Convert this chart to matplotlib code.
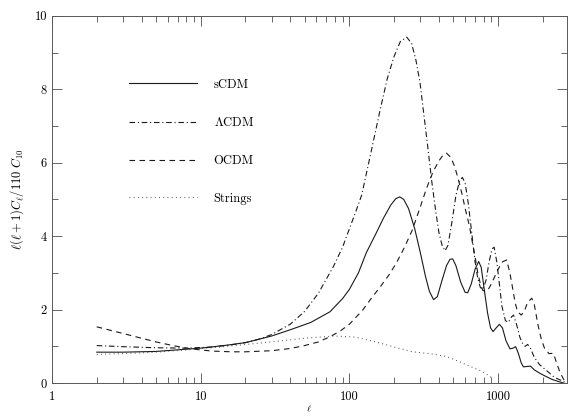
import numpy as np
import matplotlib.pyplot as plt
from matplotlib.ticker import FixedLocator, NullFormatter

plt.rcParams['font.family'] = ['cmr10', 'DejaVu Serif']
plt.rcParams['mathtext.fontset'] = 'cm'
plt.rcParams['axes.unicode_minus'] = False

# Données
l_scdm = [2, 3, 5, 10, 15, 20, 30, 40, 55, 74, 90, 100, 115, 130, 150, 170, 190, 205,
          218, 232, 250, 275, 300, 325, 345, 368, 390, 420, 450, 475, 495, 520, 560,
          600, 625, 660, 700, 740, 770, 810, 850, 890, 925, 970, 1020, 1070, 1130,
          1202, 1260, 1313, 1370, 1430, 1480, 1560, 1650, 1750, 1900, 2050, 2300,
          2550, 2750]
c_scdm = [0.84, 0.84, 0.86, 0.95, 1.03, 1.1, 1.28, 1.45, 1.65, 1.94, 2.3, 2.55, 3.0,
          3.55, 4.05, 4.5, 4.85, 5.02, 5.07, 5.0, 4.75, 4.2, 3.55, 2.9, 2.5, 2.27, 2.35,
          2.8, 3.2, 3.37, 3.38, 3.2, 2.75, 2.47, 2.46, 2.7, 3.1, 3.31, 3.15, 2.5, 1.9,
          1.5, 1.4, 1.5, 1.6, 1.5, 1.15, 0.93, 0.95, 0.99, 0.8, 0.55, 0.44, 0.45, 0.46,
          0.36, 0.27, 0.2, 0.1, 0.04, 0.0]

l_lcdm = [2, 3, 5, 8, 12, 16, 20, 25, 30, 40, 50, 62, 78, 90, 100, 110, 121, 140, 161,
          180, 200, 220, 243, 262, 280, 298, 314, 335, 357, 380, 400, 420, 440, 460,
          490, 520, 550, 575, 600, 630, 660, 700, 730, 760, 790, 830, 870, 910, 940,
          980, 1020, 1060, 1120, 1170, 1230, 1270, 1330, 1400, 1450, 1520, 1580, 1650,
          1750, 1900, 2100, 2400, 2800]
c_lcdm = [1.02, 0.99, 0.96, 0.95, 0.98, 1.04, 1.1, 1.2, 1.32, 1.6, 1.95, 2.45, 3.17,
          3.7, 4.2, 4.65, 5.12, 6.3, 7.44, 8.3, 8.9, 9.3, 9.42, 9.25, 8.8, 8.2, 7.44,
          6.5, 5.53, 4.7, 4.1, 3.75, 3.6, 3.75, 4.4, 5.1, 5.5, 5.6, 5.45, 4.9, 4.2, 3.3,
          2.85, 2.6, 2.55, 2.8, 3.3, 3.65, 3.7, 3.3, 2.7, 2.1, 1.7, 1.65, 1.8, 1.85, 1.6,
          1.25, 1.1, 1.0, 1.05, 0.95, 0.7, 0.5, 0.35, 0.15, 0.03]

l_ocdm = [2, 3, 4, 5, 6.5, 8, 10, 12, 16, 20, 30, 40, 50, 62, 74, 87, 100, 123, 140,
          160, 185, 207, 235, 265, 300, 330, 365, 400, 425, 450, 480, 510, 540, 570,
          605, 643, 670, 700, 730, 760, 790, 820, 860, 900, 950, 1000, 1070, 1142, 1200,
          1250, 1300, 1350, 1430, 1500, 1580, 1683, 1750, 1850, 1950, 2050, 2200, 2355,
          2450, 2600, 2800]
c_ocdm = [1.53, 1.35, 1.22, 1.12, 1.02, 0.95, 0.9, 0.87, 0.85, 0.85, 0.88, 0.94, 1.02,
          1.12, 1.26, 1.42, 1.6, 1.99, 2.3, 2.6, 2.95, 3.27, 3.7, 4.17, 4.8, 5.3, 5.75,
          6.05, 6.2, 6.26, 6.15, 5.9, 5.55, 5.17, 4.7, 4.26, 3.85, 3.44, 3.0, 2.7, 2.52,
          2.5, 2.55, 2.7, 2.9, 3.1, 3.3, 3.35, 3.0, 2.6, 2.2, 1.95, 1.85, 1.95, 2.2,
          2.31, 2.15, 1.6, 1.2, 0.95, 0.8, 0.81, 0.6, 0.3, 0.05]

l_str = [2, 3, 5, 8, 12, 18, 30, 50, 80, 110, 150, 200, 265, 350, 451, 550, 650, 750,
         830, 900]
c_str = [0.78, 0.8, 0.84, 0.9, 0.96, 1.03, 1.12, 1.22, 1.28, 1.25, 1.12, 0.98, 0.85,
         0.8, 0.72, 0.58, 0.45, 0.35, 0.25, 0.15]

x_ticks = [1, 10, 100, 1000]
y_ticks = [0, 2, 4, 6, 8, 10]

fig = plt.figure(figsize=(5.68, 4.17), dpi=100)
ax = fig.add_axes([0.0915, 0.0815, 0.9065, 0.8805])

ax.plot(l_scdm, c_scdm, '-', color='0.1', lw=0.8, label="sCDM")
ax.plot(l_lcdm, c_lcdm, color='0.1', lw=0.8, dashes=[5, 2.5, 1, 2.5],
        label=r"$\Lambda$CDM")
ax.plot(l_ocdm, c_ocdm, color='0.1', lw=0.8, dashes=[5, 4], label="OCDM")
ax.plot(l_str, c_str, color='0.3', lw=0.8, dashes=[0.8, 3], label="Strings")

ax.set_xscale('log')
ax.set_xlim(1, 2900)
ax.set_ylim(0, 10)
ax.xaxis.set_major_locator(FixedLocator(x_ticks))
ax.set_xticklabels([str(t) for t in x_ticks])
ax.xaxis.set_minor_formatter(NullFormatter())
ax.set_yticks(y_ticks)
ax.set_yticks(np.arange(1, 10, 2), minor=True)
ax.tick_params(which='both', direction='in', top=True, right=True,
               labelsize=9, color='0.3', width=0.6)
ax.tick_params(which='major', length=7)
ax.tick_params(which='minor', length=4)
ax.tick_params(axis='x', pad=6)

for s in ax.spines.values():
    s.set_color('0.35')
    s.set_linewidth(0.7)

ax.set_ylabel(r"$\ell(\ell+1)C_\ell/110\ C_{10}$", fontsize=9, labelpad=6)
ax.set_xlabel(r"$\ell$", fontsize=7, labelpad=0)

ax.legend(loc='upper left', bbox_to_anchor=(0.127, 0.86), frameon=False,
          handlelength=5.5, handletextpad=1.3, labelspacing=2.05, fontsize=9)

plt.savefig("out.png", dpi=100)
